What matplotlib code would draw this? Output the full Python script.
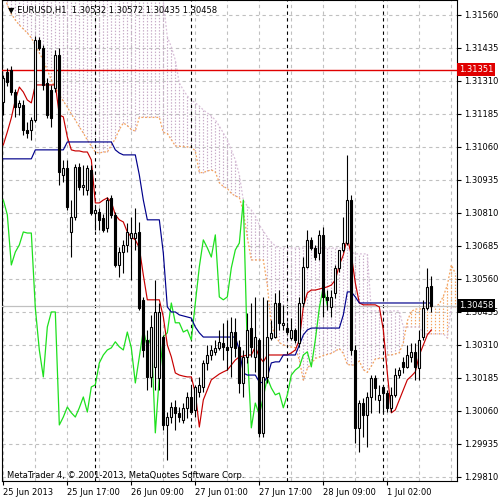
import matplotlib
matplotlib.use("Agg")
import matplotlib.pyplot as plt
import numpy as np
from matplotlib.transforms import blended_transform_factory

plt.rcParams['font.family'] = ['DejaVu Sans']

# ---------------- data (EURUSD H1) ----------------
opens = [1.31230, 1.31343, 1.31351, 1.31267, 1.31211, 1.31218, 1.31124, 1.31124, 1.31161, 1.31464,
         1.31434, 1.31302, 1.31275, 1.31283, 1.31408, 1.30953, 1.30980, 1.30737, 1.30794, 1.30983,
         1.30908, 1.30896, 1.30972, 1.30809, 1.30813, 1.30790, 1.30752, 1.30866, 1.30802, 1.30612,
         1.30661, 1.30688, 1.30714, 1.30714, 1.30737, 1.30480, 1.30328, 1.30188, 1.30226, 1.30184,
         1.30340, 1.30006, 1.30036, 1.30074, 1.30052, 1.30025, 1.30071, 1.30112, 1.30063, 1.30131,
         1.30150, 1.30241, 1.30271, 1.30283, 1.30298, 1.30317, 1.30302, 1.30302, 1.30358, 1.30302,
         1.30165, 1.30264, 1.30374, 1.30264, 1.30328, 1.29976, 1.30188, 1.30336, 1.30340, 1.30468,
         1.30385, 1.30374, 1.30336, 1.30366, 1.30317, 1.30468, 1.30605, 1.30707, 1.30677, 1.30658,
         1.30726, 1.30491, 1.30453, 1.30506, 1.30601, 1.30669, 1.30695, 1.30858, 1.30290, 1.29995,
         1.30089, 1.30044, 1.30112, 1.30184, 1.30101, 1.30150, 1.30127, 1.30071, 1.30120, 1.30195,
         1.30245, 1.30226, 1.30264, 1.30283, 1.30222, 1.30340, 1.30449, 1.30532]
highs = [1.31332, 1.31358, 1.31366, 1.31279, 1.31237, 1.31237, 1.31154, 1.31173, 1.31480, 1.31476,
         1.31446, 1.31321, 1.31294, 1.31427, 1.31434, 1.31010, 1.31010, 1.30858, 1.30995, 1.30999,
         1.30991, 1.30991, 1.30991, 1.30839, 1.30828, 1.30805, 1.30870, 1.30877, 1.30813, 1.30680,
         1.30707, 1.30771, 1.30794, 1.30828, 1.30775, 1.30491, 1.30366, 1.30423, 1.30555, 1.30468,
         1.30347, 1.30055, 1.30093, 1.30101, 1.30074, 1.30089, 1.30131, 1.30150, 1.30158, 1.30188,
         1.30252, 1.30309, 1.30309, 1.30328, 1.30366, 1.30393, 1.30404, 1.30415, 1.30411, 1.30328,
         1.30290, 1.30430, 1.30468, 1.30491, 1.30336, 1.30491, 1.30480, 1.30404, 1.30506, 1.30517,
         1.30461, 1.30396, 1.30411, 1.30374, 1.30491, 1.30642, 1.30745, 1.30718, 1.30688, 1.30745,
         1.30756, 1.30517, 1.30517, 1.30612, 1.30669, 1.30794, 1.31029, 1.30877, 1.30309, 1.30101,
         1.30108, 1.30131, 1.30195, 1.30195, 1.30158, 1.30158, 1.30139, 1.30150, 1.30222, 1.30226,
         1.30264, 1.30309, 1.30317, 1.30317, 1.30366, 1.30480, 1.30601, 1.30572]
lows = [1.31180, 1.31290, 1.31256, 1.31173, 1.31180, 1.31105, 1.31093, 1.31086, 1.31154, 1.31427,
        1.31275, 1.31169, 1.31135, 1.31267, 1.30915, 1.30927, 1.30821, 1.30642, 1.30783, 1.30896,
        1.30877, 1.30877, 1.30802, 1.30745, 1.30745, 1.30737, 1.30737, 1.30790, 1.30605, 1.30567,
        1.30582, 1.30661, 1.30555, 1.30669, 1.30442, 1.30264, 1.30139, 1.30150, 1.30139, 1.30139,
        1.29987, 1.29873, 1.30014, 1.29987, 1.30018, 1.30014, 1.30033, 1.30052, 1.30036, 1.30112,
        1.30131, 1.30214, 1.30252, 1.30271, 1.30290, 1.30252, 1.30214, 1.30188, 1.30264, 1.30127,
        1.30112, 1.30241, 1.30264, 1.30207, 1.29961, 1.29961, 1.30165, 1.30328, 1.30336, 1.30366,
        1.30366, 1.30347, 1.30328, 1.30317, 1.30302, 1.30453, 1.30601, 1.30669, 1.30631, 1.30631,
        1.30415, 1.30442, 1.30415, 1.30487, 1.30586, 1.30661, 1.30688, 1.30271, 1.29938, 1.29904,
        1.29961, 1.29923, 1.30052, 1.30101, 1.30052, 1.30052, 1.30055, 1.30055, 1.30112, 1.30184,
        1.30203, 1.30222, 1.30245, 1.30177, 1.30177, 1.30328, 1.30442, 1.30435]
closes = [1.31321, 1.31305, 1.31267, 1.31211, 1.31226, 1.31124, 1.31112, 1.31161, 1.31464, 1.31434,
          1.31294, 1.31180, 1.31169, 1.31408, 1.30964, 1.30980, 1.30832, 1.30794, 1.30983, 1.30908,
          1.30915, 1.30980, 1.30809, 1.30821, 1.30783, 1.30745, 1.30858, 1.30802, 1.30612, 1.30661,
          1.30688, 1.30737, 1.30733, 1.30733, 1.30449, 1.30290, 1.30188, 1.30377, 1.30434, 1.30434,
          1.30006, 1.30036, 1.30074, 1.30052, 1.30036, 1.30071, 1.30112, 1.30055, 1.30150, 1.30158,
          1.30241, 1.30271, 1.30290, 1.30298, 1.30321, 1.30302, 1.30290, 1.30358, 1.30298, 1.30165,
          1.30264, 1.30366, 1.30302, 1.30340, 1.29976, 1.30188, 1.30340, 1.30355, 1.30468, 1.30393,
          1.30393, 1.30358, 1.30366, 1.30328, 1.30468, 1.30605, 1.30707, 1.30677, 1.30642, 1.30726,
          1.30491, 1.30480, 1.30491, 1.30601, 1.30669, 1.30695, 1.30858, 1.30290, 1.29995, 1.30089,
          1.30044, 1.30112, 1.30184, 1.30146, 1.30120, 1.30127, 1.30071, 1.30120, 1.30195, 1.30214,
          1.30226, 1.30271, 1.30283, 1.30226, 1.30328, 1.30449, 1.30529, 1.30458]

tenkan = [1.31067, 1.31116, 1.31169, 1.31237, 1.31286, 1.31267, 1.31237, 1.31226, 1.31294, 1.31294,
          1.31294, 1.31294, 1.31294, 1.31294, 1.31180, 1.31173, 1.31097, 1.31048, 1.31044, 1.31044,
          1.31040, 1.31040, 1.31010, 1.30847, 1.30847, 1.30858, 1.30866, 1.30851, 1.30802, 1.30783,
          1.30775, 1.30737, 1.30718, 1.30707, 1.30677, 1.30574, 1.30480, 1.30480, 1.30480, 1.30480,
          1.30415, 1.30309, 1.30264, 1.30203, 1.30195, 1.30191, 1.30188, 1.30188, 1.30127, 1.29998,
          1.30101, 1.30139, 1.30177, 1.30188, 1.30199, 1.30207, 1.30214, 1.30233, 1.30252, 1.30264,
          1.30267, 1.30271, 1.30271, 1.30302, 1.30264, 1.30245, 1.30271, 1.30271, 1.30271, 1.30271,
          1.30271, 1.30271, 1.30279, 1.30290, 1.30328, 1.30453, 1.30506, 1.30517, 1.30517, 1.30521,
          1.30525, 1.30529, 1.30536, 1.30555, 1.30612, 1.30650, 1.30714, 1.30650, 1.30544, 1.30468,
          1.30461, 1.30461, 1.30461, 1.30461, 1.30453, 1.30366, 1.30203, 1.30052, 1.30063, 1.30101,
          1.30139, 1.30177, 1.30191, 1.30207, 1.30271, 1.30309, 1.30347, 1.30366]
kijun = [1.31014, 1.31014, 1.31014, 1.31014, 1.31014, 1.31014, 1.31014, 1.31014, 1.31048, 1.31048,
         1.31048, 1.31048, 1.31048, 1.31048, 1.31048, 1.31048, 1.31078, 1.31078, 1.31078, 1.31078,
         1.31078, 1.31078, 1.31078, 1.31078, 1.31078, 1.31078, 1.31078, 1.31078, 1.31048, 1.31036,
         1.31029, 1.31029, 1.31029, 1.31029, 1.30953, 1.30858, 1.30783, 1.30783, 1.30783, 1.30783,
         1.30657, 1.30453, 1.30434, 1.30434, 1.30423, 1.30419, 1.30415, 1.30411, 1.30377, 1.30355,
         1.30339, 1.30339, 1.30339, 1.30339, 1.30339, 1.30339, 1.30339, 1.30339, 1.30339, 1.30290,
         1.30203, 1.30195, 1.30195, 1.30195, 1.30169, 1.30165, 1.30188, 1.30241, 1.30245, 1.30245,
         1.30271, 1.30271, 1.30271, 1.30271, 1.30309, 1.30347, 1.30366, 1.30373, 1.30373, 1.30373,
         1.30373, 1.30373, 1.30373, 1.30373, 1.30373, 1.30423, 1.30510, 1.30510, 1.30491, 1.30468,
         1.30468, 1.30468, 1.30468, 1.30468, 1.30468, 1.30468, 1.30468, 1.30468, 1.30468, 1.30468,
         1.30468, 1.30468, 1.30468, 1.30468, 1.30468, 1.30468, 1.30468, 1.30468]
senkou_a = [1.31646, 1.31597, 1.31563, 1.31540, 1.31521, 1.31506, 1.31491, 1.31472, 1.31445, 1.31415,
            1.31388, 1.31350, 1.31313, 1.31282, 1.31256, 1.31233, 1.31210, 1.31184, 1.31161, 1.31135,
            1.31112, 1.31085, 1.31063, 1.31040, 1.31036, 1.31040, 1.31040, 1.31065, 1.31091, 1.31125,
            1.31150, 1.31140, 1.31125, 1.31119, 1.31171, 1.31171, 1.31171, 1.31171, 1.31171, 1.31171,
            1.31114, 1.31110, 1.31087, 1.31063, 1.31061, 1.31061, 1.31059, 1.31059, 1.31044, 1.30962,
            1.30962, 1.30968, 1.30972, 1.30964, 1.30924, 1.30909, 1.30902, 1.30883, 1.30873, 1.30868,
            1.30815, 1.30716, 1.30631, 1.30631, 1.30631, 1.30631, 1.30536, 1.30381, 1.30349, 1.30318,
            1.30309, 1.30305, 1.30301, 1.30299, 1.30252, 1.30176, 1.30220, 1.30239, 1.30258, 1.30263,
            1.30269, 1.30273, 1.30277, 1.30286, 1.30295, 1.30277, 1.30235, 1.30233, 1.30233, 1.30248,
            1.30216, 1.30205, 1.30229, 1.30256, 1.30258, 1.30258, 1.30271, 1.30271, 1.30275, 1.30280,
            1.30318, 1.30400, 1.30436, 1.30445, 1.30445, 1.30447, 1.30449, 1.30451, 1.30455, 1.30464,
            1.30493, 1.30536, 1.30612, 1.30580]
senkou_b = [1.31800, 1.31800, 1.31800, 1.31800, 1.31800, 1.31800, 1.31800, 1.31800, 1.31800, 1.31800,
            1.31800, 1.31800, 1.31800, 1.31800, 1.31800, 1.31800, 1.31800, 1.31800, 1.31800, 1.31800,
            1.31800, 1.31800, 1.31800, 1.31800, 1.31800, 1.31800, 1.31800, 1.31800, 1.31800, 1.31800,
            1.31800, 1.31800, 1.31800, 1.31800, 1.31800, 1.31800, 1.31800, 1.31800, 1.31800, 1.31800,
            1.31608, 1.31476, 1.31438, 1.31388, 1.31301, 1.31275, 1.31252, 1.31237, 1.31226, 1.31214,
            1.31199, 1.31188, 1.31176, 1.31161, 1.31138, 1.31112, 1.31085, 1.31048, 1.31010, 1.30953,
            1.30858, 1.30835, 1.30820, 1.30797, 1.30763, 1.30741, 1.30718, 1.30699, 1.30684, 1.30676,
            1.30676, 1.30676, 1.30676, 1.30676, 1.30676, 1.30676, 1.30676, 1.30676, 1.30676, 1.30676,
            1.30676, 1.30676, 1.30676, 1.30676, 1.30676, 1.30676, 1.30676, 1.30661, 1.30654, 1.30654,
            1.30654, 1.30654, 1.30438, 1.30438, 1.30438, 1.30438, 1.30438, 1.30438, 1.30438, 1.30438,
            1.30377, 1.30377, 1.30377, 1.30377, 1.30377, 1.30351, 1.30351, 1.30351, 1.30351, 1.30351,
            1.30351, 1.30336, 1.30453, 1.30453]
chikou_shift = 26

y_ticks = [1.31560, 1.31435, 1.31310, 1.31185, 1.31060, 1.30935, 1.30810, 1.30685,
           1.30560, 1.30435, 1.30310, 1.30185, 1.30060, 1.29935, 1.29810]
x_tick_bars = [0, 16, 32, 48, 64, 80, 96]
x_tick_labels = ['25 Jun 2013', '25 Jun 17:00', '26 Jun 09:00', '27 Jun 01:00',
                 '27 Jun 17:00', '28 Jun 09:00', '1 Jul 02:00']
day_sep_bars = [23, 47, 71, 95]
grid_bars = list(range(0, 114, 8))
hline_price = 1.31351
bid_price = 1.30458
title = '\u25bc EURUSD,H1  1.30532 1.30572 1.30435 1.30458'
footer = 'MetaTrader 4, \u00a9 2001-2013, MetaQuotes Software Corp.'

# ---------------- figure ----------------
fig = plt.figure(figsize=(5, 5), dpi=100)
ax = fig.add_axes([0.004, 0.038, 0.91, 0.962])
ax.set_xlim(-0.33, 113.42)
ax.set_ylim(1.297937, 1.316157)

# grid
for p in y_ticks:
    ax.axhline(p, color='#c0c0c0', lw=0.8, ls=(0, (3, 3)), zorder=0.5)
for b in grid_bars:
    ax.axvline(b, color='#c0c0c0', lw=0.8, ls=(0, (3, 3)), zorder=0.5)

# kumo
sa = np.array(senkou_a)
sb = np.array(senkou_b)
jj = np.arange(len(sa))
cols = ['#f4a460' if a >= b else '#c8acc8' for a, b in zip(sa, sb)]
ax.vlines(jj, np.minimum(sa, sb), np.maximum(sa, sb), colors=cols,
          linestyles=(0, (1.2, 1.4)), lw=0.85, zorder=1)
ax.plot(jj, sa, color='#f4a460', lw=0.9, ls=(0, (1.5, 1.5)), zorder=2)
ax.plot(jj, sb, color='#d8bfd8', lw=0.9, ls=(0, (1.5, 1.5)), zorder=2)

# day separators
for b in day_sep_bars:
    ax.axvline(b, color='black', lw=0.8, ls=(0, (3, 3)), zorder=2.5)

# price lines
ax.axhline(bid_price, color='#c0c0c0', lw=0.9, zorder=2.6)
ax.axhline(hline_price, color='#e00000', lw=1.0, zorder=2.6)

idx = np.arange(len(opens))
o = np.array(opens); h = np.array(highs); l = np.array(lows); c = np.array(closes)

# ichimoku lines
ax.plot(idx[:len(c) - chikou_shift], c[chikou_shift:], color='#1ee01e', lw=0.9, zorder=3)
ax.plot(idx, tenkan, color='#c80000', lw=0.85, zorder=3.1)
ax.plot(idx, kijun, color='#00008b', lw=0.85, zorder=3.2)

# candles
ax.vlines(idx, l, h, color='black', lw=0.8, zorder=5)
up = c >= o
ax.bar(idx[up], (c - o)[up], bottom=o[up], width=0.55, facecolor='white',
       edgecolor='black', lw=0.8, zorder=6)
ax.bar(idx[~up], (o - c)[~up], bottom=c[~up], width=0.55, facecolor='black',
       edgecolor='black', lw=0.8, zorder=6)

# axes styling
for s in ax.spines.values():
    s.set_color('black'); s.set_linewidth(0.8)
ax.yaxis.tick_right()
ax.set_yticks(y_ticks)
ax.set_yticklabels([f'{v:.5f}' for v in y_ticks])
ax.set_xticks(x_tick_bars)
ax.set_xticklabels(x_tick_labels)
for t in ax.get_xticklabels():
    t.set_ha('left')
ax.tick_params(axis='both', direction='out', length=3, width=0.8, labelsize=6,
               colors='black', pad=2)

trans = blended_transform_factory(ax.transAxes, ax.transData)
ax.text(1.004, hline_price, f'{hline_price:.5f}', transform=trans, color='white', fontsize=6,
        va='center', ha='left', zorder=10, clip_on=False,
        bbox=dict(boxstyle='square,pad=0.25', fc='#e00000', ec='none'))
ax.text(1.004, bid_price, f'{bid_price:.5f}', transform=trans, color='white', fontsize=6,
        va='center', ha='left', zorder=10, clip_on=False,
        bbox=dict(boxstyle='square,pad=0.25', fc='black', ec='none'))

fig.text(8 / 500, 1 - 10 / 500, title, fontsize=6, va='center', ha='left', color='black')
fig.text(7 / 500, 1 - 475 / 500, footer, fontsize=6, va='center', ha='left', color='black')

fig.savefig('out.png', dpi=100, facecolor='white')
